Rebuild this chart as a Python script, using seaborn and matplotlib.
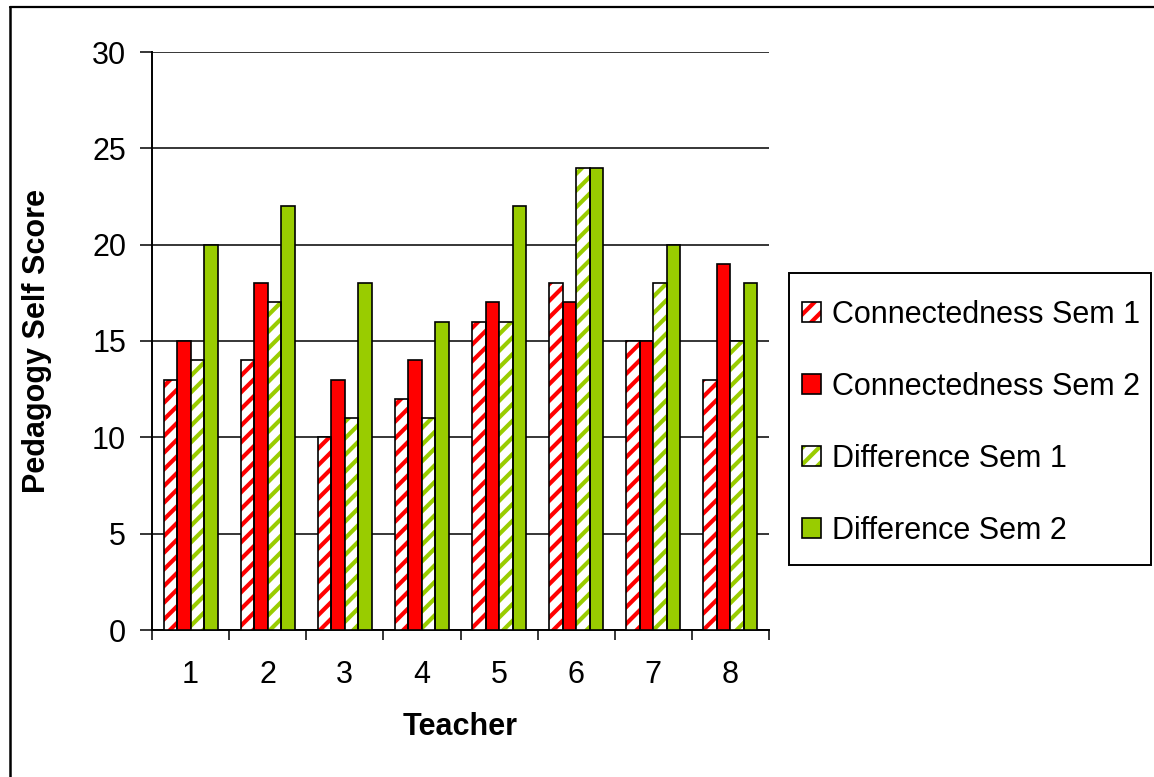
import matplotlib
matplotlib.use("Agg")
import matplotlib.pyplot as plt
from matplotlib.patches import Patch, Rectangle
from matplotlib.lines import Line2D
from matplotlib.legend_handler import HandlerTuple
import seaborn as sns
import pandas as pd

teachers = ["1", "2", "3", "4", "5", "6", "7", "8"]
series_names = ["Connectedness Sem 1", "Connectedness Sem 2",
                "Difference Sem 1", "Difference Sem 2"]
connectedness_sem1 = [13, 14, 10, 12, 16, 18, 15, 13]
connectedness_sem2 = [15, 18, 13, 14, 17, 17, 15, 19]
difference_sem1 = [14, 17, 11, 11, 16, 24, 18, 15]
difference_sem2 = [20, 22, 18, 16, 22, 24, 20, 18]

RED = "#FF0000"
GREEN = "#99CC00"
series_colors = [RED, RED, GREEN, GREEN]
series_hatched = [True, False, True, False]

sns.set_style("white")
plt.rcParams["font.family"] = ["Liberation Sans", "DejaVu Sans"]
plt.rcParams["hatch.linewidth"] = 3.0
for key in ["text.color", "axes.labelcolor", "xtick.color", "ytick.color"]:
    plt.rcParams[key] = "black"
FS = 22

rows = []
for name, vals in zip(series_names,
                      [connectedness_sem1, connectedness_sem2,
                       difference_sem1, difference_sem2]):
    for t, v in zip(teachers, vals):
        rows.append({"Teacher": t, "Series": name, "Score": v})
df = pd.DataFrame(rows)

fig = plt.figure(figsize=(11.54, 7.77), dpi=100)
ax = fig.add_axes([152 / 1154, 1 - 630 / 777, 617 / 1154, 578 / 777])

sns.barplot(data=df, x="Teacher", y="Score", hue="Series",
            order=teachers, hue_order=series_names,
            palette=series_colors, width=0.7, gap=0,
            edgecolor="black", linewidth=1.2, saturation=1,
            legend=False, ax=ax, zorder=3)

# Striped bars: white fill with coloured diagonal hatch, black outline on top
for container, color, hatched in zip(ax.containers, series_colors, series_hatched):
    if not hatched:
        continue
    for bar in container:
        bar.set_facecolor("white")
        bar.set_edgecolor(color)
        bar.set_hatch("//")
        bar.set_linewidth(0)
        ax.add_patch(Rectangle(bar.get_xy(), bar.get_width(), bar.get_height(),
                               fill=False, edgecolor="black", linewidth=1.2,
                               zorder=4))

ax.set_ylim(0, 30)
ax.set_xlim(-0.5, len(teachers) - 0.5)
ax.set_yticks(range(0, 31, 5))
ax.yaxis.grid(True, color="black", linewidth=1.1, zorder=0)
ax.xaxis.grid(False)
ax.set_axisbelow(True)

for side in ["top", "right"]:
    ax.spines[side].set_visible(False)
for side in ["left", "bottom"]:
    ax.spines[side].set_color("black")
    ax.spines[side].set_linewidth(1.4)

ax.tick_params(axis="y", direction="out", length=8.6, width=1.1, color="black",
               left=True, pad=10, labelsize=FS)
ax.set_xticks([i - 0.5 for i in range(len(teachers) + 1)], minor=True)
ax.tick_params(axis="x", which="minor", direction="out", length=7.5, width=1.1,
               color="black", bottom=True)
ax.tick_params(axis="x", which="major", length=0, pad=21.5, labelsize=FS)

ax.set_xlabel("Teacher", fontsize=FS, fontweight="bold", labelpad=16)
ax.set_ylabel("Pedagogy Self Score", fontsize=FS, fontweight="bold", labelpad=29)

# Legend entries
handles = []
for color, hatched in zip(series_colors, series_hatched):
    if hatched:
        handles.append((Patch(facecolor="white", edgecolor=color, hatch="//", linewidth=0),
                        Patch(facecolor="none", edgecolor="black", linewidth=1.2)))
    else:
        handles.append(Patch(facecolor=color, edgecolor="black", linewidth=1.2))

fig.legend(handles, series_names, loc="center left",
           bbox_to_anchor=(802 / 1154, 1 - 423 / 777),
           bbox_transform=fig.transFigure, frameon=False, fontsize=FS,
           handler_map={tuple: HandlerTuple(ndivide=1)},
           handlelength=0.63, handleheight=0.63, handletextpad=0.36,
           labelspacing=1.37, borderpad=0, borderaxespad=0)
fig.add_artist(Rectangle((789 / 1154, 1 - 565 / 777), 362 / 1154, 292 / 777,
                         transform=fig.transFigure, fill=False,
                         edgecolor="black", linewidth=1.4))

# Outer frame (left and top edges)
fig.add_artist(Line2D([10 / 1154, 10 / 1154], [0, 1 - 6.5 / 777],
                      transform=fig.transFigure, color="black", linewidth=1.8))
fig.add_artist(Line2D([10 / 1154, 1], [1 - 6.5 / 777, 1 - 6.5 / 777],
                      transform=fig.transFigure, color="black", linewidth=1.6))

fig.savefig("out.png", dpi=100, facecolor="white")
